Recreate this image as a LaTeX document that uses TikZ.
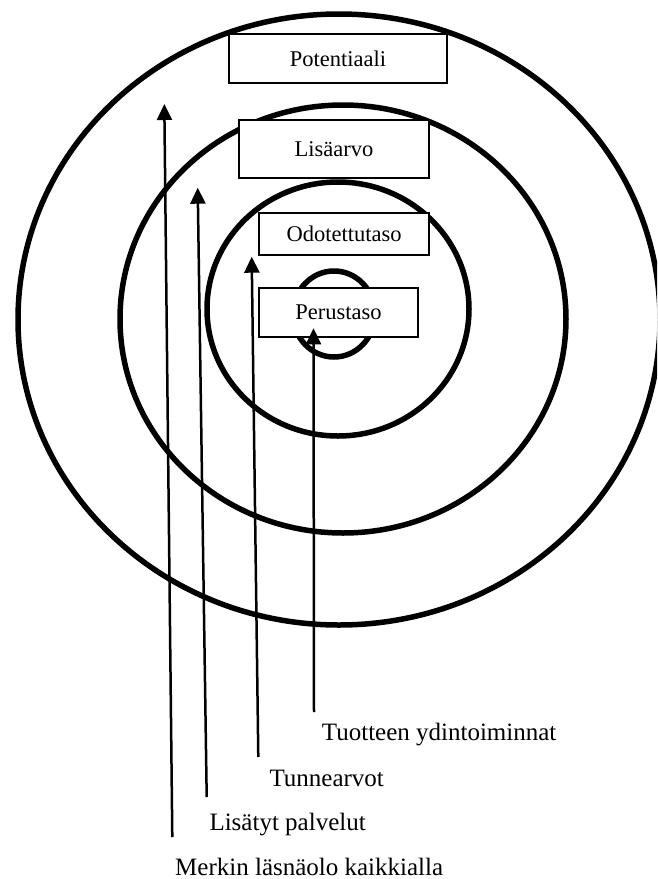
\documentclass[tikz,border=0pt]{standalone}
\usepackage{fontspec}
\setmainfont{Liberation Serif}
\usetikzlibrary{arrows.meta}
\tikzset{
  ring/.style={draw=black, line width=5.5pt},
  levelbox/.style={draw=black, line width=1.8pt, fill=white, inner sep=0pt, font=\fontsize{22.5}{27}\selectfont},
  lbl/.style={anchor=base west, inner sep=0pt, font=\fontsize{25}{30}\selectfont},
  arr/.style={line width=2.5pt, -{Triangle[length=16pt,width=15pt]}}
}
\begin{document}
\begin{tikzpicture}[x=1pt,y=-1pt]
\useasboundingbox (0,0) rectangle (657,879);
\clip (0,0) rectangle (657,879);
% rings
\draw[ring] (339,319.5) ellipse [x radius=321pt, y radius=305.5pt];
\draw[ring] (343,319) ellipse [x radius=223pt, y radius=214pt];
\draw[ring] (338,309) ellipse [x radius=131pt, y radius=127pt];
\draw[ring] (334,314) ellipse [x radius=41pt, y radius=43pt];
% boxes
\node[levelbox, minimum width=218pt, minimum height=49pt] (pot) at (338,58.5) {Potentiaali};
\node[levelbox, minimum width=190pt, minimum height=58pt] (lis) at (334,149) {Lisäarvo};
\node[levelbox, minimum width=170pt, minimum height=42pt] (odo) at (344,234) {Odotettutaso};
\node[levelbox, minimum width=159pt, minimum height=49pt] (per) at (338.5,312.5) {Perustaso};
% labels
\node[lbl] (l4) at (321.7,740) {Tuotteen ydintoiminnat};
\node[lbl] (l3) at (269.3,786) {Tunnearvot};
\node[lbl] (l2) at (209.3,830.7) {Lisätyt palvelut};
\node[lbl] (l1) at (175,875) {Merkin läsnäolo kaikkialla};
% arrow ends
\coordinate (a1s) at (172.3,837);
\coordinate (a1e) at (164.3,104);
\coordinate (a2s) at (206.7,797);
\coordinate (a2e) at (197.7,187.7);
\coordinate (a3s) at (258.3,757);
\coordinate (a3e) at (251.7,256.7);
\coordinate (a4s) at (314,712);
\coordinate (a4e) at (313.5,328.3);
\draw[arr] (a1s) -- (a1e);
\draw[arr] (a2s) -- (a2e);
\draw[arr] (a3s) -- (a3e);
\draw[arr] (a4s) -- (a4e);
\end{tikzpicture}
\end{document}
